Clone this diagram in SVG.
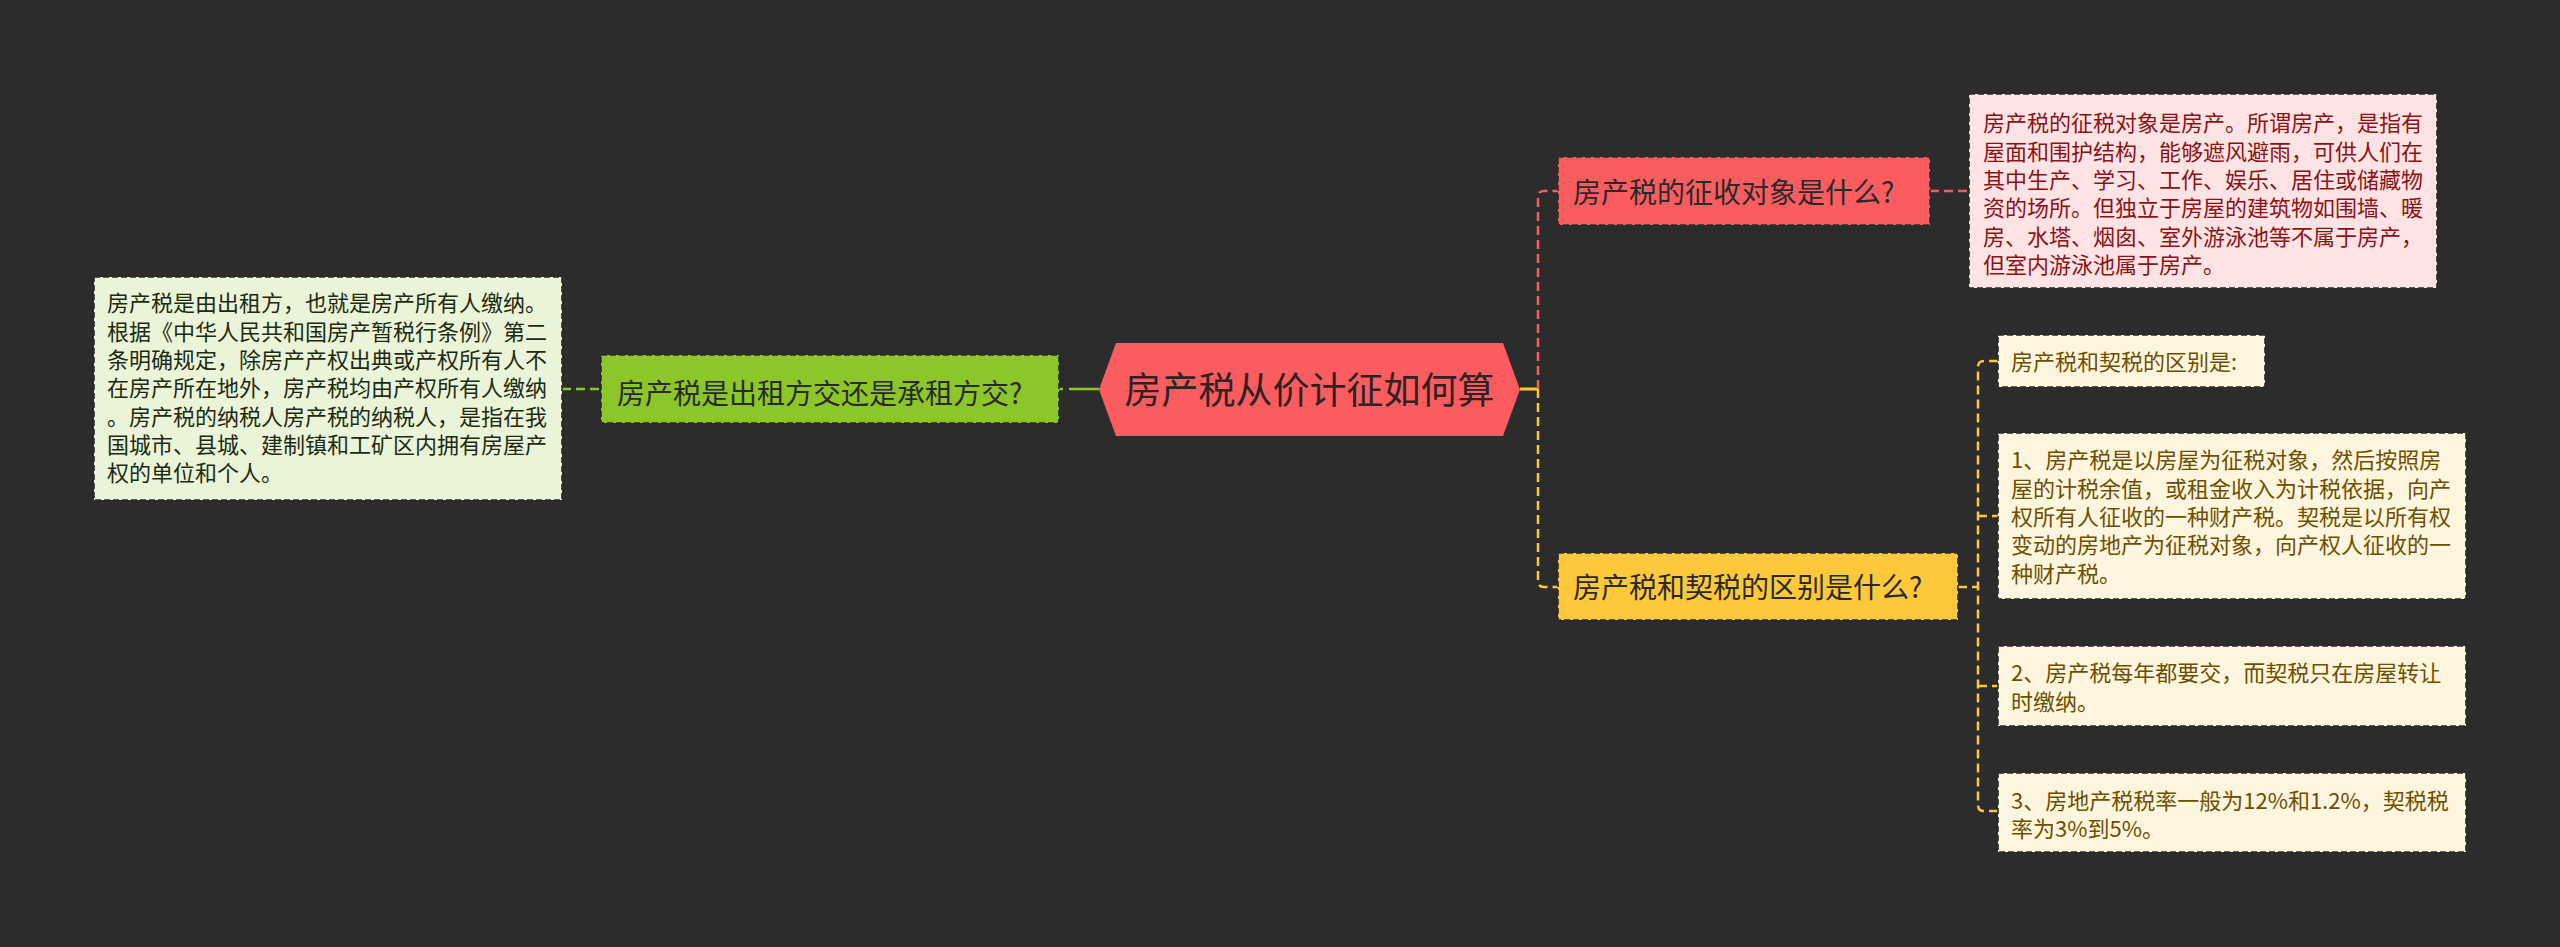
<svg xmlns="http://www.w3.org/2000/svg" width="2560" height="947" viewBox="0 0 2560 947">
<style>
text{font-family:"Noto Sans CJK SC","Noto Sans",sans-serif;}
.box{stroke:#2a2a2a;stroke-width:1.6;stroke-dasharray:6,3;}
.t22{font-size:22px;}
.t28{font-size:28px;fill:#2a2a2a;}
.cr{fill:none;stroke:#fa5c5f;stroke-width:2.5;stroke-dasharray:9,5;}
.cy{fill:none;stroke:#fdc83c;stroke-width:2.5;stroke-dasharray:9,5;}
.cg{fill:none;stroke:#8cc629;stroke-width:2.5;stroke-dasharray:9,5;}
</style>
<rect width="2560" height="947" fill="#2c2c2c"/>
<g id="connectors">
<path class="cg" d="M562 389 H601"/>
<path d="M1059 389 H1099" fill="none" stroke="#8cc629" stroke-width="2.5" stroke-dasharray="4,6,40"/>
<path d="M1520 389 H1538" fill="none" stroke="#fdc83c" stroke-width="3"/>
<path class="cr" d="M1538 389 V197 Q1538 191 1544 191 H1558"/>
<path class="cy" d="M1538 389 V581 Q1538 587 1544 587 H1558"/>
<path class="cr" d="M1930 191 H1969"/>
<path class="cy" d="M1958 587 H1978"/>
<path class="cy" d="M1998 361 H1984 Q1978 361 1978 367 V805 Q1978 811 1984 811 H1998"/>
<path class="cy" d="M1978 516 H1998"/>
<path class="cy" d="M1978 686 H1998"/>
</g>
<g id="root">
<polygon points="1099,389.5 1116,343 1503,343 1520,389.5 1503,436 1116,436" fill="#fa5c5f"/>
<text x="1309.5" y="404" font-size="37" text-anchor="middle" fill="#2e2222">房产税从价计征如何算</text>
</g>
<g id="n-left">
<rect class="box" x="601" y="355" width="458" height="68" fill="#8cc629"/>
<text class="t28" x="617" y="403.6">房产税是出租方交还是承租方交?</text>
</g>
<g id="n-left-detail">
<rect class="box" x="94" y="277" width="468" height="223" fill="#e9f4d9"/>
<text class="t22" fill="#1e2a10">
<tspan x="107" y="311.4">房产税是由出租方，也就是房产所有人缴纳。</tspan>
<tspan x="107" y="339.7">根据《中华人民共和国房产暂税行条例》第二</tspan>
<tspan x="107" y="368">条明确规定，除房产产权出典或产权所有人不</tspan>
<tspan x="107" y="396.4">在房产所在地外，房产税均由产权所有人缴纳</tspan>
<tspan x="107" y="424.7">。房产税的纳税人房产税的纳税人，是指在我</tspan>
<tspan x="107" y="453">国城市、县城、建制镇和工矿区内拥有房屋产</tspan>
<tspan x="107" y="481.4">权的单位和个人。</tspan>
</text>
</g>
<g id="n-red">
<rect class="box" x="1558" y="157" width="372" height="68" fill="#fa5c5f"/>
<text class="t28" x="1573" y="202.6">房产税的征收对象是什么?</text>
</g>
<g id="n-red-detail">
<rect class="box" x="1969" y="94" width="468" height="194" fill="#fde3e3"/>
<text class="t22" fill="#8c1217">
<tspan x="1983" y="131.4">房产税的征税对象是房产。所谓房产，是指有</tspan>
<tspan x="1983" y="159.7">屋面和围护结构，能够遮风避雨，可供人们在</tspan>
<tspan x="1983" y="188">其中生产、学习、工作、娱乐、居住或储藏物</tspan>
<tspan x="1983" y="216.4">资的场所。但独立于房屋的建筑物如围墙、暖</tspan>
<tspan x="1983" y="244.7">房、水塔、烟囱、室外游泳池等不属于房产，</tspan>
<tspan x="1983" y="273">但室内游泳池属于房产。</tspan>
</text>
</g>
<g id="n-yellow">
<rect class="box" x="1558" y="553" width="400" height="67" fill="#fdc83c"/>
<text class="t28" x="1573" y="597.6">房产税和契税的区别是什么?</text>
</g>
<g id="n-y0">
<rect class="box" x="1998" y="335" width="267" height="52" fill="#fdf5dd"/>
<text class="t22" fill="#6e4f00" x="2011" y="369.5">房产税和契税的区别是:</text>
</g>
<g id="n-y1">
<rect class="box" x="1998" y="433" width="468" height="166" fill="#fdf5dd"/>
<text class="t22" fill="#6e4f00">
<tspan x="2011" y="468.4">1、房产税是以房屋为征税对象，然后按照房</tspan>
<tspan x="2011" y="496.7">屋的计税余值，或租金收入为计税依据，向产</tspan>
<tspan x="2011" y="525">权所有人征收的一种财产税。契税是以所有权</tspan>
<tspan x="2011" y="553.4">变动的房地产为征税对象，向产权人征收的一</tspan>
<tspan x="2011" y="581.7">种财产税。</tspan>
</text>
</g>
<g id="n-y2">
<rect class="box" x="1998" y="646" width="468" height="80" fill="#fdf5dd"/>
<text class="t22" fill="#6e4f00">
<tspan x="2011" y="681.4">2、房产税每年都要交，而契税只在房屋转让</tspan>
<tspan x="2011" y="709.7">时缴纳。</tspan>
</text>
</g>
<g id="n-y3">
<rect class="box" x="1998" y="773" width="468" height="79" fill="#fdf5dd"/>
<text class="t22" fill="#6e4f00">
<tspan x="2011" y="809">3、房地产税税率一般为12%和1.2%，契税税</tspan>
<tspan x="2011" y="837.3">率为3%到5%。</tspan>
</text>
</g>
</svg>
